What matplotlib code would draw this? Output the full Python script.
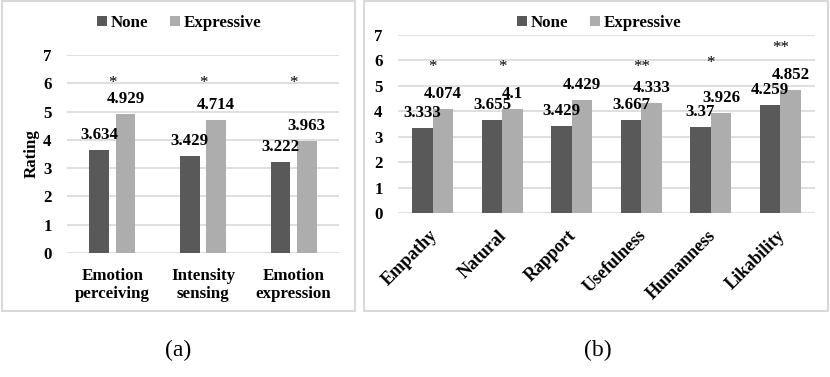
#!/usr/bin/env python3

# Ratings for None vs Expressive, two panels (a) and (b).

import matplotlib
matplotlib.use("Agg")
from matplotlib import pyplot as plt
from matplotlib.patches import Rectangle
from matplotlib.transforms import ScaledTranslation
import numpy as np

plt.rcParams["font.family"] = ["Liberation Serif", "DejaVu Serif"]
plt.rcParams["font.weight"] = "bold"
plt.rcParams["axes.labelweight"] = "bold"

# panel (a)
cats_a = ["Emotion\nperceiving", "Intensity\nsensing", "Emotion\nexpression"]
none_a = [3.634, 3.429, 3.222]
expr_a = [4.929, 4.714, 3.963]
stars_a = ["*", "*", "*"]
star_y_a = [6.0, 6.0, 6.0]

# panel (b)
cats_b = ["Empathy", "Natural", "Rapport", "Usefulness", "Humanness", "Likability"]
none_b = [3.333, 3.655, 3.429, 3.667, 3.37, 4.259]
expr_b = [4.074, 4.1, 4.429, 4.333, 3.926, 4.852]
stars_b = ["*", "*", "", "**", "*", "**"]
star_y_b = [5.75, 5.75, 5.75, 5.75, 5.9, 6.5]

series = ["None", "Expressive"]
c_none = "#595959"
c_expr = "#adadad"
grid_c = "#d9d9d9"
fs = 12.2

W, H = 830, 377
fig = plt.figure(figsize=(W / 100, H / 100), dpi=100)


def fx(px):
    return px / W


def fy(py):
    return 1 - py / H


def bars(ax, cats, none, expr, stars, star_y, width, offs):
    x = np.arange(len(cats))
    b1 = ax.bar(x - offs, none, width, color=c_none, label=series[0], zorder=2)
    b2 = ax.bar(x + offs, expr, width, color=c_expr, label=series[1], zorder=2)
    for bs, vals in ((b1, none), (b2, expr)):
        for b, v in zip(bs, vals):
            ax.annotate(f"{v:g}", (b.get_x() + b.get_width() / 2, v),
                        xytext=(0, 5), textcoords="offset points",
                        ha="center", va="bottom", fontsize=fs, zorder=3)
    for xi, s, sy in zip(x, stars, star_y):
        if s:
            ax.text(xi, sy, s, ha="center", va="center", fontsize=fs,
                    fontweight="normal")
    ax.set_ylim(0, 7)
    ax.set_xlim(-0.5, len(cats) - 0.5)
    ax.set_yticks(range(8))
    ax.yaxis.grid(True, color=grid_c, lw=1.2, zorder=0)
    ax.set_axisbelow(True)
    for sp in ax.spines.values():
        sp.set_visible(False)
    ax.tick_params(length=0, labelsize=fs)
    ax.tick_params(axis="y", pad=11)
    ax.set_xticks(x)
    return x


# panel (a)
ax1 = fig.add_axes([fx(67), fy(253), fx(339) - fx(67), fy(55) - fy(253)])
bars(ax1, cats_a, none_a, expr_a, stars_a, star_y_a, 0.22, 0.145)
ax1.set_xticklabels(cats_a, linespacing=1.12)
ax1.tick_params(axis="x", pad=11)
ax1.set_ylabel("Rating", fontsize=fs, fontweight="bold")
ax1.yaxis.set_label_coords(-0.10, 0.5)
ax1.legend(loc="center", bbox_to_anchor=(fx(179), fy(23)),
           bbox_transform=fig.transFigure, ncol=2, frameon=False,
           fontsize=fs, handlelength=0.6, handleheight=0.6,
           handletextpad=0.2, columnspacing=1.3)

# panel (b)
ax2 = fig.add_axes([fx(398), fy(213), fx(815) - fx(398), fy(35) - fy(213)])
bars(ax2, cats_b, none_b, expr_b, stars_b, star_y_b, 0.295, 0.1475)
ax2.set_xticklabels(cats_b, rotation=45, ha="right", va="top", fontsize=13)
ax2.tick_params(axis="x", pad=10)
shift = ScaledTranslation(8 / 100, 0, fig.dpi_scale_trans)
for lab in ax2.get_xticklabels():
    lab.set_transform(lab.get_transform() + shift)
ax2.legend(loc="center", bbox_to_anchor=(fx(599), fy(23)),
           bbox_transform=fig.transFigure, ncol=2, frameon=False,
           fontsize=fs, handlelength=0.6, handleheight=0.6,
           handletextpad=0.2, columnspacing=1.3)

# panel frames
for x0, x1 in ((2, 355), (364, 828)):
    fig.add_artist(Rectangle((fx(x0), fy(311)), fx(x1) - fx(x0), fy(1) - fy(311),
                             transform=fig.transFigure, fill=False,
                             edgecolor=grid_c, lw=1.5))

fig.text(fx(178), fy(350), "(a)", ha="center", va="center",
         fontsize=17, fontweight="normal")
fig.text(fx(598), fy(350), "(b)", ha="center", va="center",
         fontsize=17, fontweight="normal")

plt.savefig("out.png", dpi=100)
plt.close()
